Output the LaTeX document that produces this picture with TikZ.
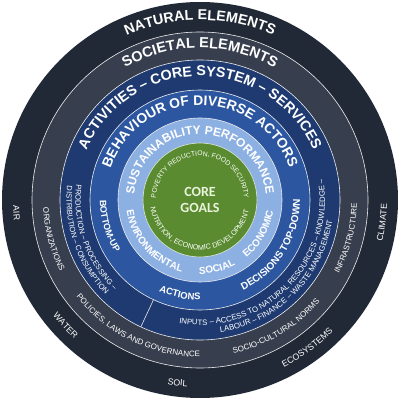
\documentclass[tikz,border=0pt]{standalone}
\usepackage{fontspec}
\setmainfont{Liberation Sans}
\newfontfamily\corefont{Carlito}
\usetikzlibrary{decorations.text}

\definecolor{natural}{HTML}{222936}
\definecolor{societal}{HTML}{373E4D}
\definecolor{activity}{HTML}{1E3A70}
\definecolor{behaviour}{HTML}{2C57A0}
\definecolor{sustain}{HTML}{8DB0E3}
\definecolor{goal}{HTML}{5A8B30}
\definecolor{goaltext}{HTML}{EAF3DC}

% text on an arc, letters standing outwards (upper half)
\newcommand{\toplabel}[4]{%
  \path[decorate, decoration={text along path, text align=center,
      text={|#3\color{white}|#4}}]
    (c) ++(#2+100:#1pt) arc[start angle=#2+100, end angle=#2-100, radius=#1pt];}
% text on an arc, letters standing inwards (lower half and sides)
\newcommand{\botlabel}[4]{%
  \path[decorate, decoration={text along path, text align=center,
      text={|#3\color{white}|#4}}]
    (c) ++(#2-100:#1pt) arc[start angle=#2-100, end angle=#2+100, radius=#1pt];}

\begin{document}
\begin{tikzpicture}[x=1pt,y=1pt]
\useasboundingbox[fill=white] (0,0) rectangle (400,400);
\tikzset{ringline/.style={draw=white!85!gray, line width=.6pt},
  goallabel/.style={font=\corefont\bfseries\fontsize{14}{14}\selectfont, text=goaltext}}

\coordinate (c) at (200,200);

\fill[natural] (c) circle [radius=198pt];
\draw[ringline, fill=societal] (c) circle [radius=168pt];
\draw[ringline, fill=activity] (c) circle [radius=140pt];
\draw[ringline, fill=behaviour] (c) circle [radius=110pt];
\draw[ringline, fill=sustain] (c) circle [radius=82pt];
\draw[draw=white!80!goal, line width=.6pt, fill=goal] (c) circle [radius=57pt];

\path (c) ++(245:110pt) coordinate (d1);
\path (c) ++(245:140pt) coordinate (d2);
\draw[ringline] (d1) -- (d2);

\node[goallabel] (core) at (200,208) {CORE};
\node[goallabel] (goals) at (200,192) {GOALS};

\toplabel{180}{90}{\bfseries\fontsize{14.3}{14}\selectfont}{NATURAL ELEMENTS}
\toplabel{152}{90}{\bfseries\fontsize{14.5}{14}\selectfont}{SOCIETAL ELEMENTS}
\toplabel{124}{90}{\bfseries\fontsize{14.3}{14}\selectfont}{ACTIVITIES – CORE SYSTEM – SERVICES}
\toplabel{95}{90}{\bfseries\fontsize{13.9}{14}\selectfont}{BEHAVIOUR OF DIVERSE ACTORS}
\toplabel{66}{90}{\bfseries\fontsize{12}{12}\selectfont}{SUSTAINABILITY PERFORMANCE}
\toplabel{44}{90}{\fontsize{6.8}{7}\selectfont}{POVERTY REDUCTION, FOOD SECURITY}

\botlabel{50}{268}{\fontsize{7.2}{7}\selectfont}{NUTRITION, ECONOMIC DEVELOPMENT}

\botlabel{74}{222}{\bfseries\fontsize{10}{10}\selectfont}{ENVIRONMENTAL}
\botlabel{74}{284}{\bfseries\fontsize{10}{10}\selectfont}{SOCIAL}
\botlabel{74}{330}{\bfseries\fontsize{10}{10}\selectfont}{ECONOMIC}

\botlabel{100}{196}{\bfseries\fontsize{9.2}{9}\selectfont}{BOTTOM-UP}
\botlabel{100}{258}{\bfseries\fontsize{9.5}{9}\selectfont}{ACTIONS}
\botlabel{100}{328}{\bfseries\fontsize{10}{10}\selectfont}{DECISIONS TOP-DOWN}

\botlabel{124.5}{199.5}{\fontsize{7.6}{8}\selectfont}{PRODUCTION – PROCESSING –}
\botlabel{133.5}{199.5}{\fontsize{7.6}{8}\selectfont}{DISTRIBUTION – CONSUMPTION}
\botlabel{125}{315}{\fontsize{7.8}{8}\selectfont}{INPUTS – ACCESS TO NATURAL RESOURCES – KNOWLEDGE –}
\botlabel{134}{315}{\fontsize{7.8}{8}\selectfont}{LABOUR – FINANCE – WASTE MANAGEMENT}

\botlabel{157}{195}{\fontsize{8}{8}\selectfont}{ORGANIZATIONS}
\botlabel{157}{244}{\fontsize{8}{8}\selectfont}{POLICIES, LAWS AND GOVERNANCE}
\botlabel{157}{301}{\fontsize{8}{8}\selectfont}{SOCIO-CULTURAL NORMS}
\botlabel{157}{345.5}{\fontsize{8}{8}\selectfont}{INFRASTRUCTURE}

\botlabel{187}{184}{\fontsize{8.8}{9}\selectfont}{AIR}
\botlabel{187}{223}{\fontsize{8.8}{9}\selectfont}{WATER}
\botlabel{187}{263}{\fontsize{8.8}{9}\selectfont}{SOIL}
\botlabel{187}{306}{\fontsize{8.8}{9}\selectfont}{ECOSYSTEMS}
\botlabel{187}{353}{\fontsize{8.8}{9}\selectfont}{CLIMATE}
\end{tikzpicture}
\end{document}
